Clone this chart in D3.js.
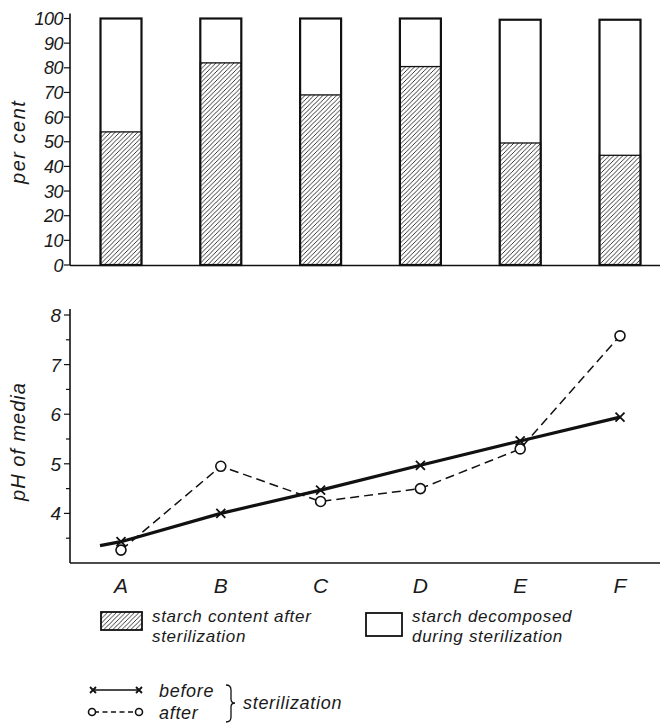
<!DOCTYPE html>
<html>
<head>
<meta charset="utf-8">
<script src="https://cdn.jsdelivr.net/npm/d3@7"></script>
<style>
  body { margin: 0; background: #fff; }
  svg text { font-family: "Liberation Sans", "DejaVu Sans", sans-serif; font-style: italic; fill: #1a1a1a; }
</style>
</head>
<body>
<div id="chart"></div>
<script>
// data
var categories = ['A', 'B', 'C', 'D', 'E', 'F'];
var starchContent = [54, 82, 69, 80.5, 49.5, 44.5];   // hatched part, per cent
var starchTotal = [100, 100, 100, 100, 99.5, 99.5];   // top of each bar
var phBefore = [3.43, 4.0, 4.47, 4.97, 5.46, 5.94];
var phAfter = [3.26, 4.95, 4.24, 4.5, 5.3, 7.58];
var phBeforeStart = 3.35;   // solid line runs a little left of A
var percentTicks = d3.range(0, 101, 10);
var phTicks = [4, 5, 6, 7, 8];
var phMinorTicks = [3.5, 4.5, 5.5, 6.5, 7.5];

var W = 663, H = 726;
var svg = d3.select('#chart').append('svg')
    .attr('width', W).attr('height', H);

var defs = svg.append('defs');
var pat = defs.append('pattern')
    .attr('id', 'hatch')
    .attr('patternUnits', 'userSpaceOnUse')
    .attr('width', 4.5).attr('height', 4.5);
pat.append('path')
    .attr('d', 'M0,4.5 L4.5,0 M-1,1 L1,-1 M3.5,5.5 L5.5,3.5')
    .attr('stroke', '#222').attr('stroke-width', 0.9);

// shared x scale
var xScale = d3.scalePoint()
    .domain(categories)
    .range([121, 620]);
var barW = 41;
var axisX = 70;

// ---------- TOP: bar chart ----------
var yTop = d3.scaleLinear().domain([0, 100]).range([265, 18.5]);

var topG = svg.append('g');
topG.append('line')
    .attr('x1', axisX).attr('x2', axisX)
    .attr('y1', yTop(0)).attr('y2', yTop(100) - 5)
    .attr('stroke', '#111').attr('stroke-width', 1.6);
topG.append('line')
    .attr('x1', axisX).attr('x2', 660)
    .attr('y1', yTop(0) + 0.5).attr('y2', yTop(0) + 0.5)
    .attr('stroke', '#111').attr('stroke-width', 1.6);

topG.selectAll('.ptick').data(percentTicks).enter().append('line')
    .attr('x1', axisX - 6).attr('x2', axisX)
    .attr('y1', function(d) { return yTop(d); })
    .attr('y2', function(d) { return yTop(d); })
    .attr('stroke', '#111').attr('stroke-width', 1.2);
topG.selectAll('.plabel').data(percentTicks).enter().append('text')
    .attr('x', axisX - 7)
    .attr('y', function(d) { return yTop(d) + 6.5; })
    .attr('text-anchor', 'end')
    .style('font-size', '18px')
    .style('letter-spacing', '-0.5px')
    .text(function(d) { return d; });

topG.append('text')
    .attr('transform', 'translate(25,' + yTop(50) + ') rotate(-90)')
    .attr('text-anchor', 'middle')
    .style('font-size', '20px')
    .style('letter-spacing', '1.5px')
    .text('per cent');

var bars = topG.selectAll('.bar').data(categories).enter().append('g');
// white (decomposed) part
bars.append('rect')
    .attr('x', function(d) { return xScale(d) - barW / 2; })
    .attr('y', function(d, i) { return yTop(starchTotal[i]); })
    .attr('width', barW)
    .attr('height', function(d, i) { return yTop(0) - yTop(starchTotal[i]); })
    .attr('fill', '#fff');
// hatched part
bars.append('rect')
    .attr('x', function(d) { return xScale(d) - barW / 2; })
    .attr('y', function(d, i) { return yTop(starchContent[i]); })
    .attr('width', barW)
    .attr('height', function(d, i) { return yTop(0) - yTop(starchContent[i]); })
    .attr('fill', 'url(#hatch)')
    .attr('stroke', '#111').attr('stroke-width', 1.3);
// outline
bars.append('rect')
    .attr('x', function(d) { return xScale(d) - barW / 2; })
    .attr('y', function(d, i) { return yTop(starchTotal[i]); })
    .attr('width', barW)
    .attr('height', function(d, i) { return yTop(0) - yTop(starchTotal[i]); })
    .attr('fill', 'none')
    .attr('stroke', '#111').attr('stroke-width', 2.2);

// ---------- BOTTOM: pH line chart ----------
var yBot = d3.scaleLinear().domain([3, 8]).range([563, 315]);
var botG = svg.append('g');

botG.append('line')
    .attr('x1', axisX).attr('x2', axisX)
    .attr('y1', yBot(3)).attr('y2', yBot(8) - 6)
    .attr('stroke', '#111').attr('stroke-width', 1.6);
botG.append('line')
    .attr('x1', axisX).attr('x2', 660)
    .attr('y1', yBot(3)).attr('y2', yBot(3))
    .attr('stroke', '#111').attr('stroke-width', 1.6);

botG.selectAll('.major').data(phTicks).enter().append('line')
    .attr('x1', axisX - 6).attr('x2', axisX)
    .attr('y1', function(d) { return yBot(d); })
    .attr('y2', function(d) { return yBot(d); })
    .attr('stroke', '#111').attr('stroke-width', 1.2);
botG.selectAll('.minor').data(phMinorTicks).enter().append('line')
    .attr('x1', axisX - 4).attr('x2', axisX)
    .attr('y1', function(d) { return yBot(d); })
    .attr('y2', function(d) { return yBot(d); })
    .attr('stroke', '#111').attr('stroke-width', 1.2);
botG.selectAll('.phlabel').data(phTicks).enter().append('text')
    .attr('x', axisX - 9)
    .attr('y', function(d) { return yBot(d) + 7; })
    .attr('text-anchor', 'end')
    .style('font-size', '19px')
    .text(function(d) { return d; });

botG.append('text')
    .attr('transform', 'translate(25,' + yBot(5.45) + ') rotate(-90)')
    .attr('text-anchor', 'middle')
    .style('font-size', '20px')
    .style('letter-spacing', '1px')
    .text('pH of media');

botG.selectAll('.cat').data(categories).enter().append('text')
    .attr('x', function(d) { return xScale(d); })
    .attr('y', yBot(3) + 30)
    .attr('text-anchor', 'middle')
    .style('font-size', '21px')
    .text(function(d) { return d; });

var line = d3.line()
    .x(function(d) { return d[0]; })
    .y(function(d) { return yBot(d[1]); });

var beforePts = categories.map(function(c, i) { return [xScale(c), phBefore[i]]; });
beforePts.unshift([xScale('A') - 21, phBeforeStart]);
var afterPts = categories.map(function(c, i) { return [xScale(c), phAfter[i]]; });

botG.append('path')
    .attr('d', line(afterPts))
    .attr('fill', 'none')
    .attr('stroke', '#111').attr('stroke-width', 1.5)
    .attr('stroke-dasharray', '9,5');
botG.append('path')
    .attr('d', line(beforePts))
    .attr('fill', 'none')
    .attr('stroke', '#111').attr('stroke-width', 3.2);

function cross(g, x, y, s) {
    g.append('path')
        .attr('d', 'M' + (x - s) + ',' + (y - s) + 'L' + (x + s) + ',' + (y + s) +
                   'M' + (x - s) + ',' + (y + s) + 'L' + (x + s) + ',' + (y - s))
        .attr('stroke', '#111').attr('stroke-width', 1.8).attr('fill', 'none');
}
function ring(g, x, y, r) {
    g.append('circle')
        .attr('cx', x).attr('cy', y).attr('r', r)
        .attr('fill', '#fff').attr('stroke', '#111').attr('stroke-width', 1.6);
}
afterPts.forEach(function(p) { ring(botG, p[0], yBot(p[1]), 5); });
beforePts.slice(1).forEach(function(p) { cross(botG, p[0], yBot(p[1]), 4.5); });

// ---------- legend ----------
var leg = svg.append('g').style('font-size', '17px').style('letter-spacing', '0.7px');
leg.append('rect')
    .attr('x', 101).attr('y', 612).attr('width', 41).attr('height', 18)
    .attr('fill', 'url(#hatch)').attr('stroke', '#111').attr('stroke-width', 1.8);
leg.append('text').attr('x', 152).attr('y', 622).text('starch content after');
leg.append('text').attr('x', 152).attr('y', 642).text('sterilization');

leg.append('rect')
    .attr('x', 366).attr('y', 613).attr('width', 36).attr('height', 23)
    .attr('fill', '#fff').attr('stroke', '#111').attr('stroke-width', 1.8);
leg.append('text').attr('x', 412).attr('y', 622).text('starch decomposed');
leg.append('text').attr('x', 412).attr('y', 642).text('during sterilization');

var legLine = leg.append('g');
legLine.append('line')
    .attr('x1', 93).attr('x2', 139).attr('y1', 690).attr('y2', 690)
    .attr('stroke', '#111').attr('stroke-width', 1.6);
cross(legLine, 93, 690, 3);
cross(legLine, 139, 690, 3);
legLine.append('line')
    .attr('x1', 94).attr('x2', 138).attr('y1', 712).attr('y2', 712)
    .attr('stroke', '#111').attr('stroke-width', 1.4)
    .attr('stroke-dasharray', '5,3.5');
ring(legLine, 92, 712, 3.5);
ring(legLine, 139, 712, 3.5);
leg.append('text').attr('x', 159).attr('y', 697).style('font-size', '18px').text('before');
leg.append('text').attr('x', 159).attr('y', 719).style('font-size', '18px').text('after');

leg.append('path')
    .attr('d', 'M226,685 Q231,685 231,690 L231,699 Q231,703 235,703 Q231,703 231,707 L231,717 Q231,722 226,722')
    .attr('fill', 'none').attr('stroke', '#111').attr('stroke-width', 1.3);
leg.append('text').attr('x', 243).attr('y', 709).style('font-size', '18px').text('sterilization');
</script>
</body>
</html>
